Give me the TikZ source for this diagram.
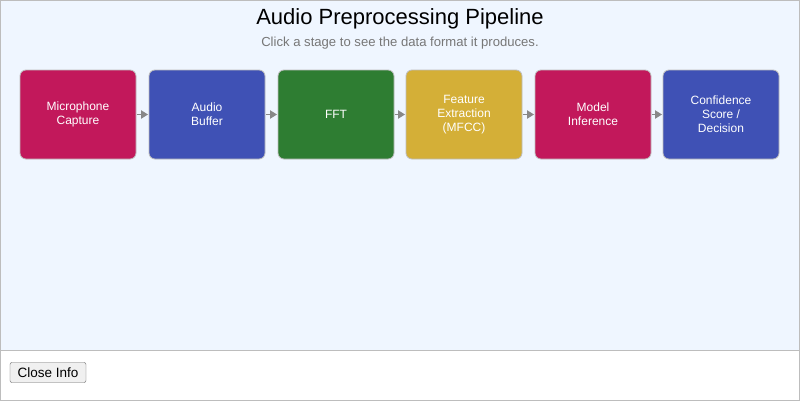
\documentclass[tikz,border=0pt]{standalone}
\usepackage{fontspec}
\setmainfont{Liberation Sans}
\usetikzlibrary{arrows.meta}
\definecolor{bgblue}{HTML}{EFF6FF}
\definecolor{cmag}{HTML}{C2185B}
\definecolor{cblue}{HTML}{3F51B5}
\definecolor{cgreen}{HTML}{2E7D32}
\definecolor{cgold}{HTML}{D4AF37}
\definecolor{edgegray}{HTML}{BDBDBD}
\definecolor{arrowgray}{HTML}{888888}
\definecolor{subgray}{HTML}{777777}
\tikzset{
  stagebox/.style={draw=edgegray, line width=0.8pt, rounded corners=6pt, minimum width=116pt, minimum height=89pt, inner sep=0pt, text=white, font=\fontsize{12}{14}\selectfont, align=center},
  flow/.style={draw=arrowgray, line width=1.8pt, -{Triangle[length=7pt,width=8pt]}, shorten >=0.5pt, shorten <=0.5pt},
}
\begin{document}
\begin{tikzpicture}[x=1pt,y=-1pt]
\useasboundingbox (0,0) rectangle (800,402);
\fill[bgblue] (0,0) rectangle (800,350);
\fill[white] (0,350) rectangle (800,401);
\draw[edgegray, line width=1pt] (0.5,0.5) rectangle (799.5,400.5);
\draw[edgegray, line width=1pt] (0,350) -- (800,350);
\node[font=\fontsize{22}{26}\selectfont] (title) at (400,19) {Audio Preprocessing Pipeline};
\node[font=\fontsize{13.1}{15}\selectfont, text=subgray] (sub) at (400,43) {Click a stage to see the data format it produces.};
\node[stagebox, fill=cmag] (s1) at (78,114.5) {Microphone\\Capture};
\node[stagebox, fill=cblue] (s2) at (207,114.5) {Audio\\Buffer};
\node[stagebox, fill=cgreen] (s3) at (336,114.5) {FFT};
\node[stagebox, fill=cgold] (s4) at (464,114.5) {Feature\\Extraction\\(MFCC)};
\node[stagebox, fill=cmag] (s5) at (593,114.5) {Model\\Inference};
\node[stagebox, fill=cblue] (s6) at (721,114.5) {Confidence\\Score /\\Decision};
\draw[flow] (s1) -- (s2);
\draw[flow] (s2) -- (s3);
\draw[flow] (s3) -- (s4);
\draw[flow] (s4) -- (s5);
\draw[flow] (s5) -- (s6);
\node[draw=black!60, fill=black!6, rounded corners=2pt, minimum width=76pt, minimum height=20pt, inner sep=0pt, font=\fontsize{13.5}{16}\selectfont] (close) at (48,372.5) {Close Info};
\end{tikzpicture}
\end{document}
